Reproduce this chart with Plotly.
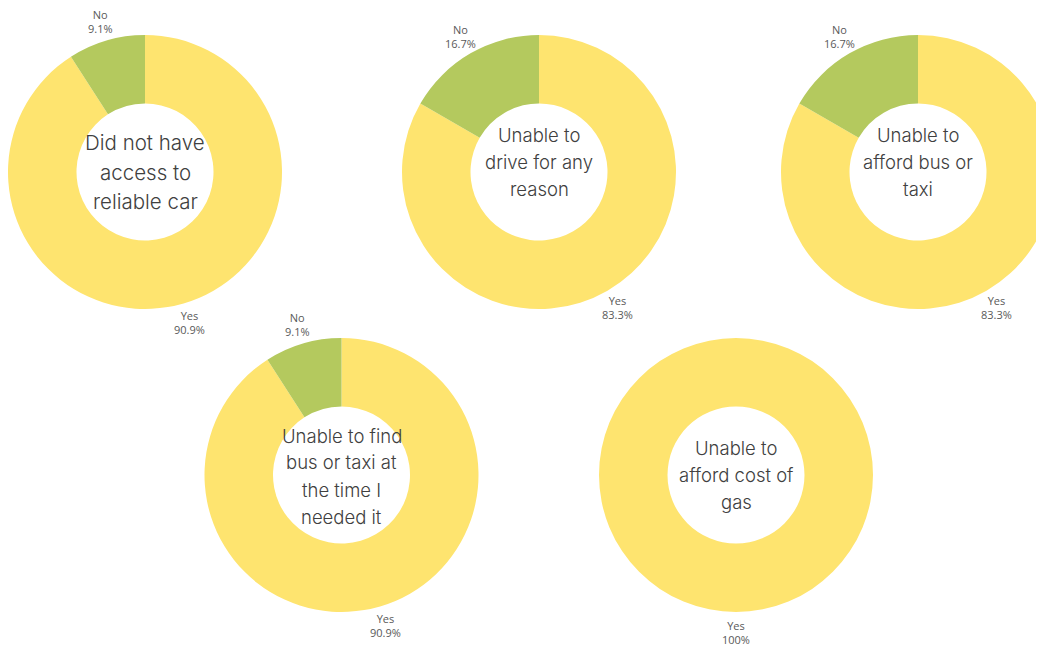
import math
import plotly.graph_objects as go

# ---------------- data ----------------
titles = [
    ["Did not have", "access to", "reliable car"],
    ["Unable to", "drive for any", "reason"],
    ["Unable to", "afford bus or", "taxi"],
    ["Unable to find", "bus or taxi at", "the time I", "needed it"],
    ["Unable to", "afford cost of", "gas"],
]
labels = ["Yes", "No"]
yes_counts = [10, 5, 5, 10, 6]
no_counts = [1, 1, 1, 1, 0]

# ---------------- layout (page pixels) ----------------
OFF = 8                     # body margin of the page
W, H = 1100, 700            # figure size (overflows the window like the reference)
centers = [(145, 172), (539, 172), (918, 172), (341.5, 475), (736, 475)]
R = 137
LABEL_D = 157
text_mid = [172, 162, 162, 476, 475]
text_size = [20.5, 18.5, 18.5, 18.5, 18.5]
line_gap = [29.5, 27, 27, 27, 27]

YELLOW = "#FEE46F"
GREEN = "#B4C95E"
TXT = "#404040"
LBL = "#595959"


def px(x):
    return min(1.0, max(0.0, (x - OFF) / W))


def py(y):
    return min(1.0, max(0.0, 1 - (y - OFF) / H))


def pxa(x):
    return (x - OFF) / W


def pya(y):
    return 1 - (y - OFF) / H


fig = go.Figure()
for i, (cx, cy) in enumerate(centers):
    vals = [yes_counts[i], no_counts[i]]
    labs = [l for l, v in zip(labels, vals) if v > 0]
    cols = [c for c, v in zip([YELLOW, GREEN], vals) if v > 0]
    vals = [v for v in vals if v > 0]
    fig.add_trace(go.Pie(
        labels=labs, values=vals,
        hole=0.5, sort=False, direction="clockwise", rotation=0,
        marker=dict(colors=cols, line=dict(width=0)),
        textinfo="none", hoverinfo="label+percent",
        domain=dict(x=[px(cx - R), px(cx + R)], y=[py(cy + R), py(cy - R)]),
        showlegend=False,
    ))
    # outside labels at the middle angle of each slice
    total = sum(vals)
    start = 0.0
    for lab, v in zip(labs, vals):
        frac = v / total
        mid = (start + frac / 2) * 2 * math.pi
        start += frac
        lx = cx + LABEL_D * math.sin(mid)
        ly = cy - LABEL_D * math.cos(mid)
        pct = "100%" if frac == 1 else f"{frac * 100:.1f}%"
        fig.add_annotation(
            x=pxa(lx), y=pya(ly), xref="paper", yref="paper",
            text=f"{lab}<br>{pct}", showarrow=False,
            xanchor="center", yanchor="middle",
            font=dict(family="Open Sans", size=11, color=LBL),
        )
    # centre title, one line at a time
    n = len(titles[i])
    for k, line in enumerate(titles[i]):
        yy = text_mid[i] + (k - (n - 1) / 2) * line_gap[i]
        fig.add_annotation(
            x=pxa(cx), y=pya(yy), xref="paper", yref="paper",
            text=line, showarrow=False, xanchor="center", yanchor="middle",
            font=dict(family="Inter", size=text_size[i], color=TXT, weight=300),
        )

# partially visible label of a chart below the visible area
fig.add_annotation(x=pxa(970), y=pya(654), xref="paper", yref="paper",
                   text="Yes", showarrow=False, xanchor="center", yanchor="middle",
                   font=dict(family="Open Sans", size=11, color=LBL))

fig.update_layout(
    width=W, height=H,
    margin=dict(l=0, r=0, t=0, b=0),
    paper_bgcolor="white", plot_bgcolor="white",
)
fig.write_html("out.html")
